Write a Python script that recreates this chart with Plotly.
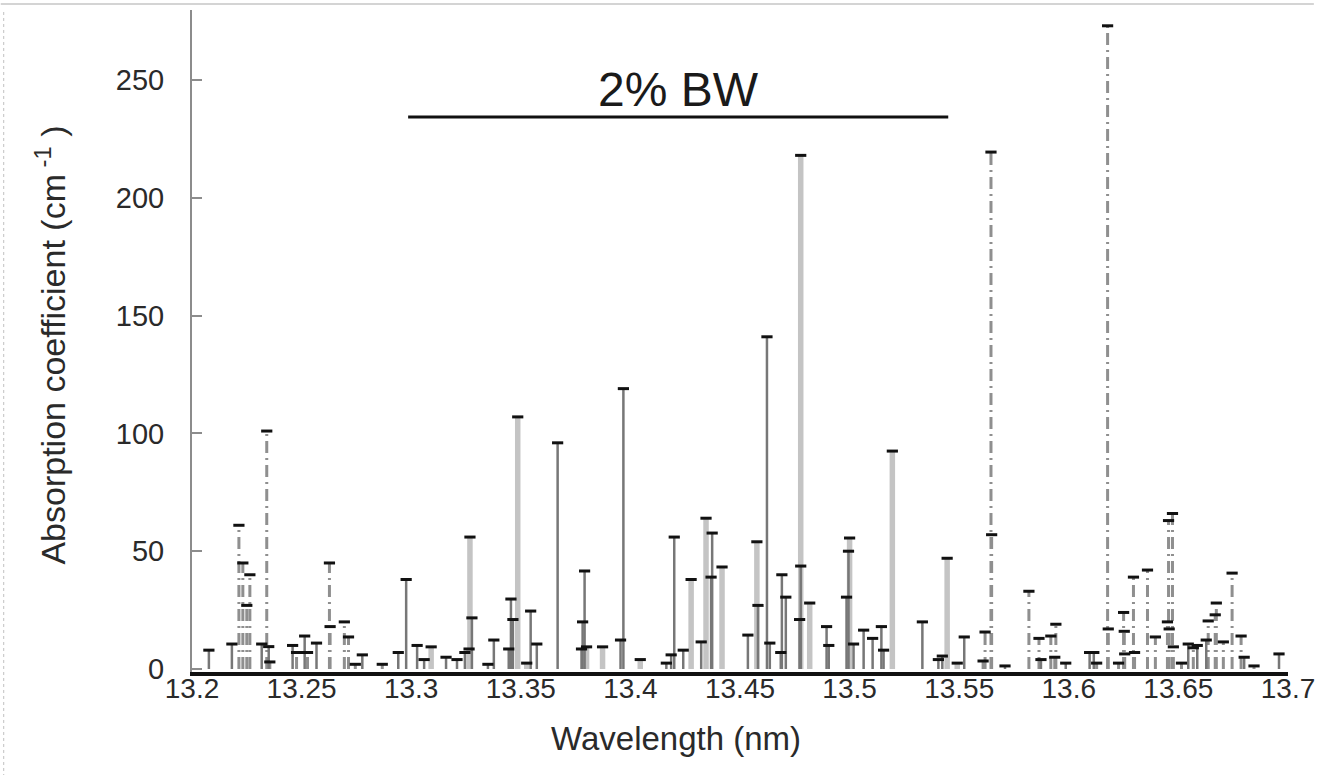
import plotly.graph_objects as go

# ---- data (wavelength nm, absorption coefficient cm^-1) ----
dark_wl = [13.2077, 13.2182, 13.2318, 13.2350, 13.2459, 13.2514, 13.2568, 13.2777, 13.2941, 13.2977,
           13.3027, 13.3059, 13.3159, 13.3209, 13.3245, 13.3277, 13.3350, 13.3377, 13.3455, 13.3464,
           13.3445, 13.3545, 13.3573, 13.3668, 13.3791, 13.3782, 13.3777, 13.3955, 13.3968, 13.4164,
           13.4186, 13.4200, 13.4241, 13.4323, 13.4373, 13.4368, 13.4536, 13.4582, 13.4623, 13.4636,
           13.4691, 13.4709, 13.4686, 13.4777, 13.4772, 13.4895, 13.4905, 13.4995, 13.4986, 13.5018,
           13.5064, 13.5105, 13.5145, 13.5155, 13.5332, 13.5405, 13.5423, 13.5523, 13.5709, 13.5873,
           13.5986, 13.6095, 13.6114, 13.6545, 13.6586, 13.6627, 13.6800, 13.6959]
dark_val = [8, 10.6, 10.6, 9.5, 10, 14, 11, 6, 7, 38,
            10, 4, 5, 4, 7, 21.7, 2, 12.3, 29.7, 21,
            8.5, 24.6, 10.6, 96, 41.6, 20, 8.5, 12.3, 119, 2.5,
            6, 56, 8, 11.5, 57.7, 39, 14.4, 27, 141, 11,
            40, 30.5, 7, 43.7, 21, 18, 10, 50, 30.5, 10.6,
            16.5, 13, 18, 8, 20, 4, 5.5, 13.6, 1.3, 4,
            2.5, 7, 7, 10.6, 10, 12.3, 5, 6.4]

light_wl = [13.3091, 13.3268, 13.3264, 13.3486, 13.3527, 13.3800, 13.3873, 13.4045, 13.4277, 13.4345,
            13.4418, 13.4577, 13.4777, 13.4818, 13.5000, 13.5195, 13.5445, 13.5491]
light_val = [9.4, 56, 8.5, 107, 2.5, 9.4, 9.4, 4, 38, 64,
             43.3, 54, 218, 28, 55.6, 92.5, 47, 2.5]

dd_wl = [13.2214, 13.2232, 13.2264, 13.2250, 13.2341, 13.2355, 13.2477, 13.2527, 13.2627, 13.2630,
         13.2695, 13.2714, 13.2745, 13.2868, 13.5609, 13.5618, 13.5645, 13.5648, 13.5818, 13.5864,
         13.5918, 13.5941, 13.5936, 13.6127, 13.6177, 13.6180, 13.6250, 13.6253, 13.6255, 13.6227,
         13.6295, 13.6300, 13.6359, 13.6395, 13.6473, 13.6455, 13.6450, 13.6458, 13.6477, 13.6514,
         13.6568, 13.6636, 13.6668, 13.6673, 13.6705, 13.6745, 13.6786, 13.6845]
dd_val = [61, 45, 40, 27, 101, 3, 7, 7, 45, 18,
          20, 13.6, 2, 2, 3.4, 15.7, 219.4, 57, 33, 13,
          14, 19, 5, 2.5, 273, 17, 24, 16, 6.4, 2.5,
          39, 7, 42, 13.6, 66, 63, 20, 17, 9.4, 2.5,
          9, 20.4, 23, 28, 11.5, 40.7, 14, 1.3]

y_ticks = [0, 50, 100, 150, 200, 250]
x_ticks = [13.2, 13.25, 13.3, 13.35, 13.4, 13.45, 13.5, 13.55, 13.6, 13.65, 13.7]
x_ticktext = ["13.2", "13.25", "13.3", "13.35", "13.4", "13.45", "13.5", "13.55", "13.6", "13.65", "13.7"]

bw_start, bw_end, bw_level = 13.2986, 13.545, 234.3
bw_label = "2% BW"


def sticks(xs, ys):
    sx, sy = [], []
    for a, b in zip(xs, ys):
        sx += [a, a, None]
        sy += [0, b, None]
    return sx, sy


fig = go.Figure()

lx, ly = sticks(light_wl, light_val)
fig.add_trace(go.Scatter(x=lx, y=ly, mode="lines", line=dict(color="#c4c4c4", width=5.5),
                         hoverinfo="skip", showlegend=False))
dx, dy = sticks(dd_wl, dd_val)
fig.add_trace(go.Scatter(x=dx, y=dy, mode="lines",
                         line=dict(color="#8f8f8f", width=3, dash="12px,5px,2px,5px"),
                         hoverinfo="skip", showlegend=False))
kx, ky = sticks(dark_wl, dark_val)
fig.add_trace(go.Scatter(x=kx, y=ky, mode="lines", line=dict(color="#777777", width=2.5),
                         hoverinfo="skip", showlegend=False))

all_wl = light_wl + dd_wl + dark_wl
all_val = light_val + dd_val + dark_val
fig.add_trace(go.Scatter(x=all_wl, y=all_val, mode="markers",
                         marker=dict(symbol="line-ew", size=8, line=dict(color="#111", width=3)),
                         showlegend=False))

# 2% BW bar
fig.add_shape(type="line", xref="x", yref="y", x0=bw_start, x1=bw_end, y0=bw_level, y1=bw_level,
              line=dict(color="#111", width=3))
fig.add_annotation(x=(bw_start + bw_end) / 2, y=bw_level + 11.5, xref="x", yref="y", text=bw_label,
                   xanchor="center", yanchor="middle",
                   showarrow=False, font=dict(size=48, color="#1a1a1a", family="Liberation Sans"))

# axis titles as annotations
fig.add_annotation(x=0.4418, y=-0.0997, xref="paper", yref="paper", text="Wavelength (nm)",
                   xanchor="center", yanchor="middle",
                   showarrow=False, font=dict(size=33, color="#2a2a2a", family="Liberation Sans"))
fig.add_annotation(x=-0.129, y=0.494, xref="paper", yref="paper",
                   text="Absorption coefficient (cm<sup> -1</sup> )", textangle=-90,
                   xanchor="center", yanchor="middle",
                   showarrow=False, font=dict(size=34, color="#2a2a2a", family="Liberation Sans"))

# scan frame remnants
fig.add_shape(type="line", xref="paper", yref="paper", x0=-0.1745, x1=1.0236, y0=1.009, y1=1.009,
              line=dict(color="#d4d4d4", width=2))
fig.add_shape(type="line", xref="paper", yref="paper", x0=-0.1718, x1=-0.1718, y0=0.997, y1=-0.1556,
              line=dict(color="#c0c0c0", width=1, dash="dot"))

fig.update_layout(
    width=1318, height=775,
    margin=dict(l=192, r=30, t=10, b=103),
    paper_bgcolor="white", plot_bgcolor="white",
    font=dict(family="Liberation Sans", color="#2a2a2a"),
    xaxis=dict(range=[13.2, 13.7], tickvals=x_ticks, ticktext=x_ticktext, showgrid=False,
               zeroline=False, showline=True, linecolor="#111", linewidth=4, ticks="",
               tickfont=dict(size=28), ticklabelstandoff=-12, ticklabeloverflow="allow",
               automargin=False),
    yaxis=dict(range=[-1.27, 279.7], tickvals=y_ticks, showgrid=False, zeroline=False,
               showline=True, linecolor="#8c8c8c", linewidth=2, ticks="inside", ticklen=10,
               tickcolor="#8c8c8c", tickwidth=2, tickfont=dict(size=29), ticklabelstandoff=20,
               automargin=False),
)

fig.write_html("out.html")
